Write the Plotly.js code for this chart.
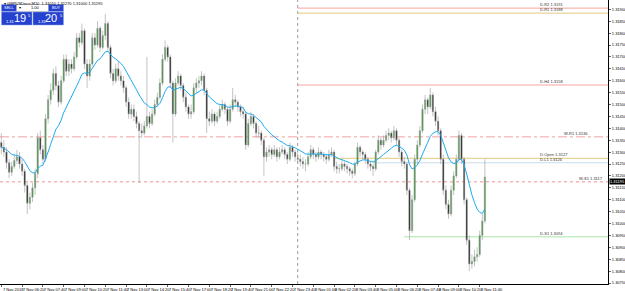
<!DOCTYPE html>
<html><head><meta charset="utf-8">
<script src="https://cdn.plot.ly/plotly-3.0.1.min.js"></script>
<style>html,body{margin:0;padding:0;background:#fff;overflow:hidden}#chart{width:625px;height:291px}</style>
</head><body><div id="chart"></div>
<script>
const symbol = 'GBPUSDecn,M10';
const spread = 0.0001;
const openP = [
1.31340,1.31320,1.31300,1.31255,1.31215,1.31240,1.31265,1.31280,1.31250,1.31220,
1.31160,1.31085,1.31110,1.31150,1.31210,1.31360,1.31310,1.31270,1.31440,1.31520,
1.31560,1.31630,1.31580,1.31510,1.31600,1.31690,1.31640,1.31670,1.31650,1.31700,
1.31780,1.31760,1.31810,1.31670,1.31620,1.31670,1.31780,1.31750,1.31820,1.31740,
1.31790,1.31840,1.31740,1.31630,1.31600,1.31650,1.31620,1.31600,1.31570,1.31510,
1.31460,1.31480,1.31450,1.31420,1.31390,1.31380,1.31410,1.31450,1.31420,1.31460,
1.31500,1.31530,1.31590,1.31690,1.31740,1.31700,1.31590,1.31460,1.31590,1.31620,
1.31580,1.31530,1.31490,1.31460,1.31470,1.31570,1.31590,1.31600,1.31620,1.31560,
1.31440,1.31430,1.31460,1.31430,1.31450,1.31480,1.31500,1.31480,1.31430,1.31480,
1.31520,1.31510,1.31490,1.31470,1.31460,1.31330,1.31420,1.31450,1.31420,1.31380,
1.31380,1.31350,1.31280,1.31300,1.31310,1.31290,1.31310,1.31280,1.31300,1.31310,
1.31290,1.31270,1.31320,1.31300,1.31274,1.31270,1.31260,1.31250,1.31250,1.31280,
1.31310,1.31290,1.31280,1.31300,1.31290,1.31280,1.31270,1.31290,1.31300,1.31240,
1.31230,1.31230,1.31250,1.31240,1.31230,1.31220,1.31210,1.31250,1.31320,1.31300,
1.31290,1.31270,1.31250,1.31240,1.31230,1.31300,1.31350,1.31330,1.31350,1.31370,
1.31380,1.31360,1.31390,1.31350,1.31300,1.31260,1.31250,1.31140,1.30970,1.31100,
1.31270,1.31330,1.31390,1.31480,1.31520,1.31490,1.31540,1.31470,1.31430,1.31390,
1.31270,1.31140,1.31080,1.31040,1.31140,1.31200,1.31270,1.31370,1.31270,1.31100,
1.30930,1.30830,1.30840,1.30860,1.30870,1.30950,1.31010];
const highP = [
1.31380,1.31350,1.31320,1.31270,1.31260,1.31290,1.31310,1.31300,1.31270,1.31230,
1.31180,1.31130,1.31170,1.31230,1.31380,1.31390,1.31330,1.31460,1.31540,1.31590,
1.31650,1.31660,1.31600,1.31620,1.31710,1.31710,1.31690,1.31690,1.31720,1.31800,
1.31800,1.31840,1.31820,1.31690,1.31690,1.31800,1.31800,1.31850,1.31830,1.31810,
1.31880,1.31850,1.31750,1.31650,1.31670,1.31680,1.31640,1.31620,1.31580,1.31530,
1.31500,1.31500,1.31470,1.31430,1.31420,1.31430,1.31700,1.31470,1.31480,1.31520,
1.31550,1.31610,1.31710,1.31770,1.31750,1.31710,1.31600,1.31610,1.31640,1.31630,
1.31590,1.31550,1.31500,1.31500,1.31590,1.31610,1.31620,1.31640,1.31630,1.31570,
1.31470,1.31480,1.31470,1.31470,1.31500,1.31520,1.31510,1.31490,1.31500,1.31570,
1.31540,1.31520,1.31500,1.31490,1.31470,1.31440,1.31470,1.31460,1.31430,1.31410,
1.31390,1.31360,1.31320,1.31330,1.31320,1.31330,1.31320,1.31320,1.31330,1.31320,
1.31300,1.31340,1.31330,1.31310,1.31300,1.31290,1.31280,1.31270,1.31300,1.31330,
1.31320,1.31300,1.31320,1.31310,1.31300,1.31290,1.31310,1.31320,1.31310,1.31260,
1.31250,1.31270,1.31260,1.31250,1.31240,1.31230,1.31260,1.31340,1.31330,1.31310,
1.31300,1.31280,1.31260,1.31250,1.31310,1.31370,1.31360,1.31370,1.31390,1.31400,
1.31390,1.31410,1.31400,1.31360,1.31310,1.31280,1.31260,1.31150,1.31120,1.31290,
1.31350,1.31410,1.31500,1.31540,1.31530,1.31570,1.31550,1.31490,1.31450,1.31400,
1.31290,1.31160,1.31100,1.31160,1.31220,1.31290,1.31390,1.31380,1.31280,1.31110,
1.30950,1.30870,1.30890,1.30900,1.30970,1.31040,1.31270];
const lowP = [
1.31290,1.31280,1.31230,1.31190,1.31200,1.31230,1.31250,1.31230,1.31200,1.31130,
1.31040,1.31060,1.31090,1.31120,1.31190,1.31290,1.31250,1.31260,1.31420,1.31500,
1.31540,1.31560,1.31490,1.31500,1.31590,1.31620,1.31620,1.31630,1.31640,1.31690,
1.31740,1.31750,1.31650,1.31570,1.31600,1.31660,1.31730,1.31740,1.31720,1.31730,
1.31770,1.31720,1.31610,1.31580,1.31590,1.31600,1.31580,1.31550,1.31490,1.31440,
1.31440,1.31430,1.31400,1.31170,1.31360,1.31370,1.31400,1.31400,1.31410,1.31450,
1.31490,1.31520,1.31580,1.31680,1.31680,1.31570,1.31340,1.31450,1.31580,1.31560,
1.31510,1.31470,1.31440,1.31440,1.31460,1.31550,1.31570,1.31580,1.31540,1.31380,
1.31410,1.31420,1.31410,1.31420,1.31440,1.31470,1.31460,1.31410,1.31420,1.31470,
1.31490,1.31470,1.31450,1.31440,1.31310,1.31320,1.31410,1.31400,1.31360,1.31360,
1.31330,1.31200,1.31260,1.31280,1.31270,1.31280,1.31260,1.31270,1.31290,1.31270,
1.31250,1.31260,1.31280,1.31260,1.31255,1.31240,1.31230,1.31220,1.31240,1.31270,
1.31270,1.31260,1.31270,1.31270,1.31260,1.31250,1.31260,1.31280,1.31220,1.31210,
1.31210,1.31220,1.31220,1.31210,1.31200,1.31190,1.31200,1.31240,1.31280,1.31270,
1.31250,1.31230,1.31220,1.31200,1.31220,1.31290,1.31310,1.31320,1.31340,1.31350,
1.31340,1.31350,1.31330,1.31280,1.31240,1.31230,1.31120,1.30930,1.30960,1.31090,
1.31250,1.31320,1.31380,1.31460,1.31460,1.31480,1.31450,1.31410,1.31370,1.31250,
1.31120,1.31060,1.31020,1.31030,1.31120,1.31190,1.31260,1.31250,1.31080,1.30910,
1.30800,1.30810,1.30820,1.30840,1.30860,1.30930,1.31000];
const closeP = [
1.31320,1.31300,1.31255,1.31215,1.31240,1.31265,1.31280,1.31250,1.31220,1.31160,
1.31085,1.31110,1.31150,1.31210,1.31360,1.31310,1.31270,1.31440,1.31520,1.31560,
1.31630,1.31580,1.31510,1.31600,1.31690,1.31640,1.31670,1.31650,1.31700,1.31780,
1.31760,1.31810,1.31670,1.31620,1.31670,1.31780,1.31750,1.31820,1.31740,1.31790,
1.31840,1.31740,1.31630,1.31600,1.31650,1.31620,1.31600,1.31570,1.31510,1.31460,
1.31480,1.31450,1.31420,1.31390,1.31380,1.31410,1.31450,1.31420,1.31460,1.31500,
1.31530,1.31590,1.31690,1.31740,1.31700,1.31590,1.31460,1.31590,1.31620,1.31580,
1.31530,1.31490,1.31460,1.31470,1.31570,1.31590,1.31600,1.31620,1.31560,1.31440,
1.31430,1.31460,1.31430,1.31450,1.31480,1.31500,1.31480,1.31430,1.31480,1.31520,
1.31510,1.31490,1.31470,1.31460,1.31330,1.31420,1.31450,1.31420,1.31380,1.31380,
1.31350,1.31280,1.31300,1.31310,1.31290,1.31310,1.31280,1.31300,1.31310,1.31290,
1.31270,1.31320,1.31300,1.31280,1.31270,1.31260,1.31250,1.31250,1.31280,1.31310,
1.31290,1.31280,1.31300,1.31290,1.31280,1.31270,1.31290,1.31300,1.31240,1.31230,
1.31230,1.31250,1.31240,1.31230,1.31220,1.31210,1.31250,1.31320,1.31300,1.31290,
1.31270,1.31250,1.31240,1.31230,1.31300,1.31350,1.31330,1.31350,1.31370,1.31380,
1.31360,1.31390,1.31350,1.31300,1.31260,1.31250,1.31140,1.30970,1.31100,1.31270,
1.31330,1.31390,1.31480,1.31520,1.31490,1.31540,1.31470,1.31430,1.31390,1.31270,
1.31140,1.31080,1.31040,1.31140,1.31200,1.31270,1.31370,1.31270,1.31100,1.30930,
1.30830,1.30840,1.30860,1.30870,1.30950,1.31010,1.31195];

// time axis: one label every 8 bars (M10)
const tickLabels = ['7 Nov 2018','7 Nov 06:20','7 Nov 07:40','7 Nov 09:00','7 Nov 10:20','7 Nov 11:40',
 '7 Nov 13:00','7 Nov 14:20','7 Nov 15:40','7 Nov 17:00','7 Nov 18:20','7 Nov 19:40','7 Nov 21:00',
 '7 Nov 22:20','7 Nov 23:40','8 Nov 01:00','8 Nov 02:20','8 Nov 03:40','8 Nov 05:00','8 Nov 06:20',
 '8 Nov 07:40','8 Nov 09:00','8 Nov 10:20','8 Nov 11:40'];
const barsPerLabel = 8;
const daySeparatorBar = 114;

// level lines
const levelNames  = ['D-R2','D-R1','D-H4','W-R1','D-Open','D-L1','W-S1','D-S1'];
const levelValues = [1.31905,1.31884,1.31582,1.31364,1.31274,1.31255,1.31175,1.30944];
const levelStart  = [114,114,114,null,128,143,null,155];
const levelColors = ['#f5a3a3','#e3c77c','#f5a3a3','#f2a0a0','#e3c77c','#c9dcec','#f29090','#a6e6a6'];
const levelDash   = ['solid','solid','solid','dashdot','solid','solid','dot','solid'];

const maPeriod = 15;

const N = closeP.length;
const xs = closeP.map((_, i) => i);
// EMA of closes (indicator)
const ma = [];
const k = 2 / (maPeriod + 1);
closeP.forEach((c, i) => { ma.push(i === 0 ? c : ma[i-1] + k * (c - ma[i-1])); });

const X0 = -0.5, X1 = 233.35;
const Y0 = 1.307458, Y1 = 1.319391;
const PW = 608, PH = 284;
const px = v => v / PW;
const py = v => 1 - v / PH;
const FONT = 'Liberation Sans, Arial, sans-serif';

const traces = [
  {type:'candlestick', x:xs, open:openP, high:highP, low:lowP, close:closeP,
   increasing:{line:{color:'#9a9a9a', width:0.6}, fillcolor:'#2a9a2a'},
   decreasing:{line:{color:'#9a9a9a', width:0.6}, fillcolor:'#000000'},
   whiskerwidth:0, hoverinfo:'skip'},
  {type:'scatter', mode:'lines', x:xs, y:ma, line:{color:'#1eaaf0', width:1}, hoverinfo:'skip'}
];

const shapes = [];
const annotations = [];

// levels
levelValues.forEach((v, i) => {
  const daily = levelStart[i] !== null;
  shapes.push({type:'line', xref:'x', yref:'y', x0: daily ? levelStart[i] : X0, x1: X1, y0:v, y1:v,
    line:{color:levelColors[i], width:1, dash:levelDash[i]}, layer:'below'});
  const txt = levelNames[i] + ' ' + v.toFixed(4);
  if (daily) {
    annotations.push({x:206.4, y:v, xref:'x', yref:'y', xanchor:'left', yanchor:'bottom', yshift:-1,
      text:txt, showarrow:false, font:{family:FONT, size:4, color:'#333'}});
  } else if (i === 3) {
    annotations.push({x:215.7, y:v, xref:'x', yref:'y', xanchor:'left', yanchor:'bottom', yshift:-1,
      text:txt, showarrow:false, font:{family:FONT, size:4, color:'#333'}});
  } else {
    annotations.push({x:0.995, y:v, xref:'paper', yref:'y', xanchor:'right', yanchor:'bottom', yshift:-1,
      text:txt, showarrow:false, font:{family:FONT, size:4, color:'#333'}});
  }
});

// day separator
shapes.push({type:'line', xref:'x', yref:'paper', x0:daySeparatorBar, x1:daySeparatorBar, y0:0, y1:1,
  line:{color:'#9a9a9a', width:1, dash:'dot'}, layer:'below'});

// time labels
const tickBars = tickLabels.map((_, i) => i * barsPerLabel);
tickLabels.forEach((t, i) => {
  annotations.push({x:tickBars[i] - 0.3, y:0, xref:'x', yref:'paper', xanchor:'left', yanchor:'top', yshift:-1,
    text:t, showarrow:false, font:{family:FONT, size:4, color:'#000'}});
});

// title
const last = N - 1;
annotations.push({x:0.004, y:1, xref:'paper', yref:'paper', xanchor:'left', yanchor:'top', yshift:1,
  text:'▾ ' + symbol + '  ' + openP[last].toFixed(5) + ' ' + highP[last].toFixed(5) + ' ' + lowP[last].toFixed(5) + ' ' + closeP[last].toFixed(5),
  showarrow:false, font:{family:FONT, size:4, color:'#000'}});

// current price label
annotations.push({x:1, y:closeP[last], xref:'paper', yref:'y', xanchor:'left', yanchor:'top', xshift:1, yshift:-0.8,
  text:closeP[last].toFixed(5), showarrow:false, bgcolor:'#000', borderpad:0,
  font:{family:FONT, size:4, color:'#fff'}});

// one-click trading panel
const blue = '#2541cf';
function rect(x0, y0, x1, y1, fill, lc) {
  shapes.push({type:'rect', xref:'paper', yref:'paper', x0:px(x0), x1:px(x1), y0:py(y1), y1:py(y0),
    fillcolor:fill, line:{color:lc || fill, width:0.5}, layer:'above'});
}
function txt(x, y, t, size, color, anchor) {
  annotations.push({x:px(x), y:py(y), xref:'paper', yref:'paper', xanchor:anchor || 'center', yanchor:'middle',
    text:t, showarrow:false, font:{family:FONT, size:size, color:color}});
}
rect(1.5, 4.5, 16.5, 11.5, blue, '#8fa0e0');
rect(16.5, 4.5, 48.5, 11.5, '#ffffff', '#8a8a8a');
rect(48.5, 4.5, 63.5, 11.5, blue, '#8fa0e0');
rect(1.5, 12, 32, 25, blue, '#8fa0e0');
rect(33, 12, 63.5, 25, blue, '#8fa0e0');
txt(9, 8, 'SELL', 4, '#fff');
txt(56, 8, 'BUY', 4, '#fff');
txt(19.5, 8, '▾', 4, '#000');
txt(35, 8, '1.00', 4, '#000');
const bidStr = closeP[last].toFixed(5);
const askStr = (closeP[last] + spread).toFixed(5);
[[bidStr, 1.5], [askStr, 33]].forEach(([s, x]) => {
  txt(x + 2.5, 21, s.slice(0, 4), 4, '#fff', 'left');
  txt(x + 18, 18.5, s.slice(4, 6), 11, '#fff');
  txt(x + 25, 15, s.slice(6), 4, '#fff', 'left');
});

const layout = {
  width:625, height:291,
  margin:{l:0, r:17, t:0, b:7, pad:0},
  paper_bgcolor:'#fff', plot_bgcolor:'#fff',
  showlegend:false,
  font:{family:FONT, size:4, color:'#000'},
  xaxis:{range:[X0, X1], showgrid:false, zeroline:false, showline:true, linecolor:'#000', linewidth:1,
    ticks:'outside', ticklen:2, tickcolor:'#000', tickwidth:0.6, tickmode:'array', tickvals:tickBars,
    showticklabels:false, rangeslider:{visible:false}, fixedrange:true},
  yaxis:{range:[Y0, Y1], side:'right', showgrid:false, zeroline:false, showline:true, linecolor:'#000', linewidth:1,
    ticks:'outside', ticklen:2, tickcolor:'#000', tickwidth:0.6, tickmode:'linear', tick0:1.3075, dtick:0.0005,
    tickformat:'.5f', tickfont:{family:FONT, size:4, color:'#000'}, fixedrange:true},
  shapes:shapes,
  annotations:annotations
};
Plotly.newPlot('chart', traces, layout, {displayModeBar:false, staticPlot:true});
</script>
</body></html>
